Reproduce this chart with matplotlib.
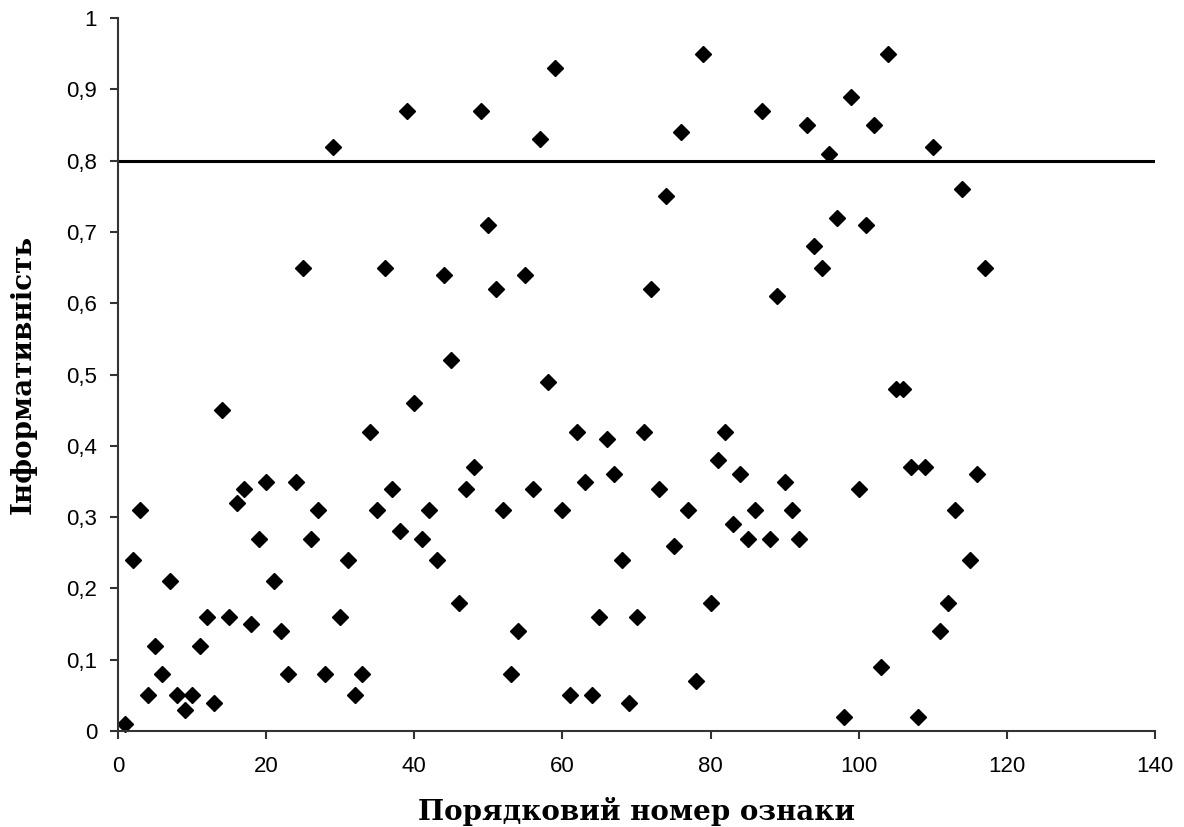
import matplotlib
matplotlib.use('Agg')
import matplotlib.pyplot as plt
from matplotlib.ticker import FuncFormatter

# feature number vs. informativeness
feature_no = list(range(1, 118))
informativeness = [
    0.01, 0.24, 0.31, 0.05, 0.12, 0.08, 0.21, 0.05, 0.03, 0.05,
    0.12, 0.16, 0.04, 0.45, 0.16, 0.32, 0.34, 0.15, 0.27, 0.35,
    0.21, 0.14, 0.08, 0.35, 0.65, 0.27, 0.31, 0.08, 0.82, 0.16,
    0.24, 0.05, 0.08, 0.42, 0.31, 0.65, 0.34, 0.28, 0.87, 0.46,
    0.27, 0.31, 0.24, 0.64, 0.52, 0.18, 0.34, 0.37, 0.87, 0.71,
    0.62, 0.31, 0.08, 0.14, 0.64, 0.34, 0.83, 0.49, 0.93, 0.31,
    0.05, 0.42, 0.35, 0.05, 0.16, 0.41, 0.36, 0.24, 0.04, 0.16,
    0.42, 0.62, 0.34, 0.75, 0.26, 0.84, 0.31, 0.07, 0.95, 0.18,
    0.38, 0.42, 0.29, 0.36, 0.27, 0.31, 0.87, 0.27, 0.61, 0.35,
    0.31, 0.27, 0.85, 0.68, 0.65, 0.81, 0.72, 0.02, 0.89, 0.34,
    0.71, 0.85, 0.09, 0.95, 0.48, 0.48, 0.37, 0.02, 0.37, 0.82,
    0.14, 0.18, 0.31, 0.76, 0.24, 0.36, 0.65,
]
threshold = 0.8

fig = plt.figure(figsize=(11.84, 8.27), dpi=100)
ax = fig.add_axes([0.0997, 0.116, 0.8758, 0.862])

ax.plot(feature_no, informativeness, linestyle='none', marker='D',
        markersize=8, color='black', clip_on=False)
ax.axhline(threshold, color='black', linewidth=2.2)

ax.set_xlim(0, 140)
ax.set_ylim(0, 1)
ax.set_xticks(range(0, 141, 20))
ax.set_yticks([i / 10 for i in range(11)])
ax.yaxis.set_major_formatter(FuncFormatter(lambda v, p: ('%g' % round(v, 1)).replace('.', ',')))

for side in ['top', 'right']:
    ax.spines[side].set_visible(False)
for side in ['left', 'bottom']:
    ax.spines[side].set_linewidth(1.5)
    ax.spines[side].set_color('#333333')
ax.tick_params(direction='out', length=6, width=1.5, color='#333333',
               labelsize=16)
ax.tick_params(axis='x', pad=12)
ax.tick_params(axis='y', pad=9)
for lab in ax.get_xticklabels() + ax.get_yticklabels():
    lab.set_family('Liberation Sans')

ax.set_xlabel('Порядковий номер ознаки', family='DejaVu Serif',
              fontweight='bold', fontsize=20, labelpad=14)
ax.set_ylabel('Інформативність', family='DejaVu Serif',
              fontweight='bold', fontsize=20, labelpad=21)

fig.savefig('out.png', dpi=100)
